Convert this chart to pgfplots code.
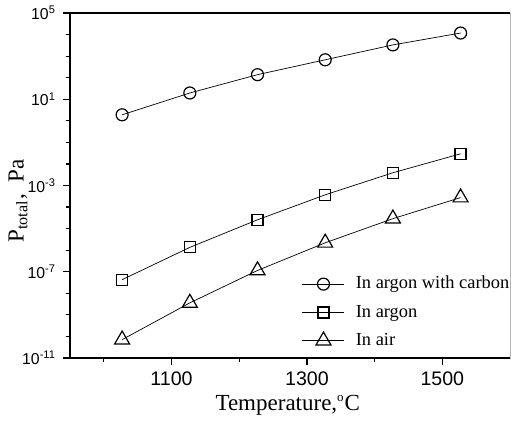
\documentclass[border=0pt]{standalone}
\usepackage{fontspec}
\setmainfont{Liberation Serif}
\setsansfont{Liberation Sans}
\usepackage{pgfplots}
\pgfplotsset{compat=1.18}

\begin{document}
\begin{tikzpicture}
\begin{semilogyaxis}[
    name=ax,
    scale only axis,
    width=220pt, height=172.5pt,
    xmin=950, xmax=1600,
    ymin=1e-11, ymax=1e5,
    clip=false,
    xtick={1100,1300,1500},
    minor xtick={1000,1200,1400},
    ytick={1e-11,1e-7,1e-3,1e1,1e5},
    yticklabels={10\textsuperscript{-11},10\textsuperscript{-7},10\textsuperscript{-3},10\textsuperscript{1},10\textsuperscript{5}},
    minor ytick={1e-10,1e-9,1e-8,1e-6,1e-5,1e-4,1e-2,1e-1,1e0,1e2,1e3,1e4},
    tick align=outside,
    tick pos=left,
    major tick length=3.5pt,
    minor tick length=2pt,
    axis line style={draw=gray!60, line width=0.4pt},
    every tick/.style={black, line width=0.6pt},
    /pgf/number format/assume math mode=true,
    /pgf/number format/1000 sep={},
    xticklabel style={font=\sffamily\fontsize{9.8}{11}\selectfont},
    yticklabel style={font=\sffamily\fontsize{7.9}{9}\selectfont},
    xlabel={Temperature,\textsuperscript{\fontsize{6.5}{6.5}\selectfont o}C},
    ylabel={P\textsubscript{total},\enspace Pa},
    label style={font=\fontsize{11.5}{13}\selectfont},
    xlabel style={at={(axis description cs:0.495,-0.136)}, anchor=center},
    ylabel style={at={(axis description cs:-0.118,0.455)}, anchor=center},
    legend cell align=left,
    legend style={draw=none, fill=none, at={(axis description cs:0.513,0.004)}, anchor=south west,
        font=\fontsize{9.2}{11}\selectfont, row sep=2.5pt,
        /tikz/every odd column/.append style={column sep=3.5pt}},
    legend image code/.code={\draw[mark repeat=2, mark phase=2] plot coordinates {(0pt,0pt) (10.5pt,0pt) (21pt,0pt)};},
]
\addplot[black, line width=0.35pt, mark=o, mark size=3pt, mark options={fill=white, line width=0.6pt}]
coordinates {(1027,1.9) (1127,19.5) (1227,138) (1327,676) (1427,3311) (1527,11750)};
\addlegendentry{In argon with carbon}
\addplot[black, line width=0.35pt, mark=square, mark size=2.75pt, mark options={fill=white, line width=0.6pt}]
coordinates {(1027,4.3e-8) (1127,1.35e-6) (1227,2.57e-5) (1327,3.7e-4) (1427,3.9e-3) (1527,2.95e-2)};
\addlegendentry{In argon}
\addplot[black, line width=0.35pt, mark=triangle, mark size=4.3pt, mark options={fill=white, line width=0.6pt}]
coordinates {(1027,7.1e-11) (1127,3.6e-9) (1227,1.15e-7) (1327,2.2e-6) (1427,2.9e-5) (1527,2.75e-4)};
\addlegendentry{In air}
\draw[black, line width=0.7pt] (rel axis cs:1,0) -- (rel axis cs:0,0) -- (rel axis cs:0,1)
    ([xshift=-3.5pt]rel axis cs:0,1) -- (rel axis cs:1,1);
\end{semilogyaxis}
\pgfresetboundingbox
\path ([xshift=-35pt,yshift=-32pt]ax.south west) rectangle ([xshift=0.5pt,yshift=6.5pt]ax.north east);
\end{tikzpicture}
\end{document}
